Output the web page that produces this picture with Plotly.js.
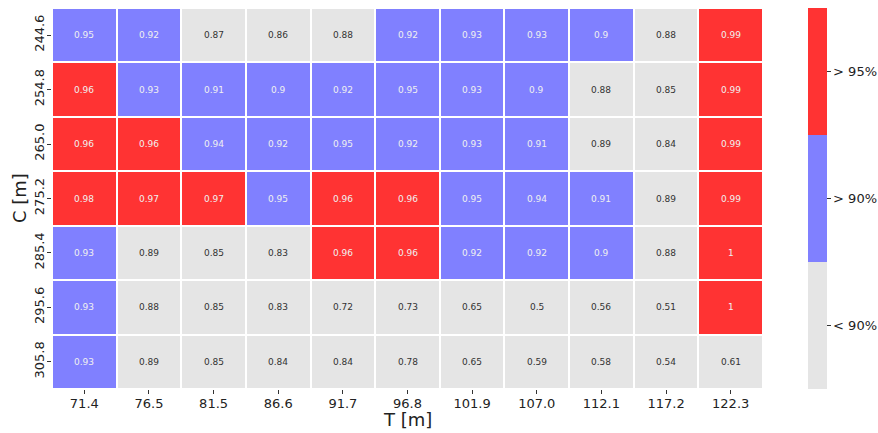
<!DOCTYPE html>
<html><head><meta charset="utf-8">
<script src="https://cdn.plot.ly/plotly-3.0.1.min.js"></script>
<style>body{margin:0;background:#fff}#chart{width:878px;height:433px}</style>
</head><body><div id="chart"></div>
<script>
const tLabels = ["71.4","76.5","81.5","86.6","91.7","96.8","101.9","107.0","112.1","117.2","122.3"];
const cLabels = ["244.6","254.8","265.0","275.2","285.4","295.6","305.8"];
const row244 = [0.95,0.92,0.87,0.86,0.88,0.92,0.93,0.93,0.9,0.88,0.99];
const row254 = [0.96,0.93,0.91,0.9,0.92,0.95,0.93,0.9,0.88,0.85,0.99];
const row265 = [0.96,0.96,0.94,0.92,0.95,0.92,0.93,0.91,0.89,0.84,0.99];
const row275 = [0.98,0.97,0.97,0.95,0.96,0.96,0.95,0.94,0.91,0.89,0.99];
const row285 = [0.93,0.89,0.85,0.83,0.96,0.96,0.92,0.92,0.9,0.88,1];
const row295 = [0.93,0.88,0.85,0.83,0.72,0.73,0.65,0.5,0.56,0.51,1];
const row305 = [0.93,0.89,0.85,0.84,0.84,0.78,0.65,0.59,0.58,0.54,0.61];
const zRows = [row244,row254,row265,row275,row285,row295,row305];
const bandLabels = ["< 90%","> 90%","> 95%"];

const GRAY="#e5e5e5", BLUE="#8080ff", RED="#ff3333";
const zmin=0.835, zmax=1.015;
const colorscale=[[0,GRAY],[1/3,GRAY],[1/3,BLUE],[2/3,BLUE],[2/3,RED],[1,RED]];

const annotations=[];
zRows.forEach((row,i)=>row.forEach((v,j)=>{
  annotations.push({x:j,y:i,xref:'x',yref:'y',text:String(v),showarrow:false,
    font:{family:'DejaVu Sans',size:9,color: v>=0.895 ? '#f0f0f0' : '#333333'}});
}));
annotations.push({xref:'paper',yref:'paper',x:(19.5-52)/711,y:0.5,xanchor:'center',yanchor:'middle',textangle:-90,
  text:'C [m]',showarrow:false,font:{family:'DejaVu Sans',size:18,color:'#222'}});
annotations.push({xref:'paper',yref:'paper',x:0.5,y:(389-419.5)/381,xanchor:'center',yanchor:'middle',
  text:'T [m]',showarrow:false,font:{family:'DejaVu Sans',size:18,color:'#222'}});

const trace={type:'heatmap',x:tLabels,y:cLabels,z:zRows,zmin:zmin,zmax:zmax,colorscale:colorscale,
  xgap:2,ygap:2,hoverinfo:'skip',
  colorbar:{x:(808-52)/711,xanchor:'left',xpad:0,ypad:0,thickness:19,thicknessmode:'pixels',len:1,lenmode:'fraction',
    y:0.5,yanchor:'middle',outlinewidth:0,tickmode:'array',
    tickvals:[zmin+(zmax-zmin)/6,zmin+(zmax-zmin)/2,zmin+5*(zmax-zmin)/6],ticktext:bandLabels,
    ticks:'outside',ticklen:4,tickcolor:'#333',tickfont:{family:'DejaVu Sans',size:13,color:'#222'}}};

const layout={width:878,height:433,margin:{l:52,r:115,t:8,b:44,autoexpand:false},paper_bgcolor:'#fff',plot_bgcolor:'#fff',
  font:{family:'DejaVu Sans',color:'#222'},
  xaxis:{type:'category',ticks:'outside',ticklen:4,tickcolor:'#333',ticklabelstandoff:-2,
    tickangle:0,tickfont:{size:13,color:'#222'},showgrid:false,zeroline:false,showline:false,automargin:false},
  yaxis:{type:'category',autorange:'reversed',ticks:'outside',ticklen:4,tickcolor:'#333',ticklabelstandoff:-2,
    tickangle:-90,tickfont:{size:13,color:'#222'},showgrid:false,zeroline:false,showline:false,automargin:false},
  annotations:annotations};
Plotly.newPlot('chart',[trace],layout,{displayModeBar:false,staticPlot:true});
</script></body></html>
